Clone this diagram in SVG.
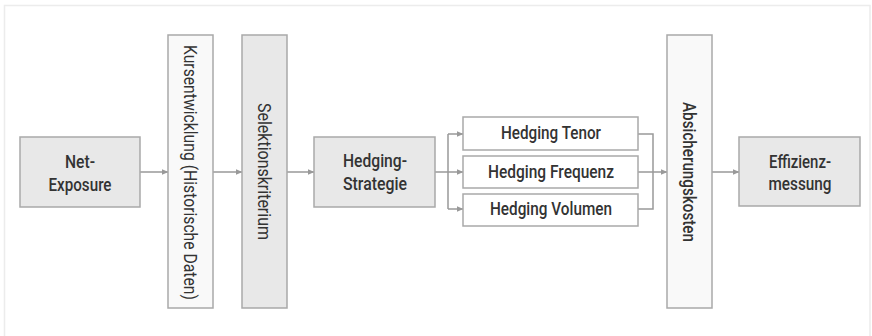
<svg xmlns="http://www.w3.org/2000/svg" width="872" height="336" viewBox="0 0 872 336">
<defs>
<marker id="ah" markerWidth="7" markerHeight="6" refX="6.5" refY="3" orient="auto" markerUnits="userSpaceOnUse">
<path d="M0,0 L7,3 L0,6 Z" fill="#999"/>
</marker>
<style>
.frame{fill:#fff;stroke:#ececec;stroke-width:1.5}
.g{fill:#e8e8e8;stroke:#a9a9a9;stroke-width:1.5}
.w{fill:#f9f9f9;stroke:#a9a9a9;stroke-width:1.5}
.ww{fill:#fff;stroke:#a9a9a9;stroke-width:1.5}
.c{fill:none;stroke:#999;stroke-width:1.5}
text{font-family:Roboto,"Liberation Sans",sans-serif;font-size:18px;fill:#333;text-anchor:middle;font-weight:500}
text.v{font-weight:400}
</style>
</defs>
<rect x="0" y="0" width="872" height="336" fill="#fff"/>
<path class="frame" d="M4.5,336 L4.5,5.5 L870,5.5 L870,336"/>
<g id="connectors">
<line class="c" x1="140" y1="172" x2="168" y2="172" marker-end="url(#ah)"/>
<line class="c" x1="213" y1="172" x2="242" y2="172" marker-end="url(#ah)"/>
<line class="c" x1="287" y1="172" x2="314" y2="172" marker-end="url(#ah)"/>
<line class="c" x1="435" y1="172" x2="448" y2="172"/>
<path class="c" d="M448,134 L448,209"/>
<line class="c" x1="448" y1="134" x2="463" y2="134" marker-end="url(#ah)"/>
<line class="c" x1="448" y1="172" x2="463" y2="172" marker-end="url(#ah)"/>
<line class="c" x1="448" y1="209" x2="463" y2="209" marker-end="url(#ah)"/>
<path class="c" d="M638,134 L653,134 L653,209 L638,209"/>
<line class="c" x1="638" y1="172" x2="667" y2="172" marker-end="url(#ah)"/>
<line class="c" x1="712" y1="172" x2="739" y2="172" marker-end="url(#ah)"/>
</g>
<g id="net-exposure">
<rect class="g" x="20" y="137" width="120" height="70"/>
<text x="80" y="167.5" textLength="30" lengthAdjust="spacingAndGlyphs">Net-</text>
<text x="80" y="190.5" textLength="63" lengthAdjust="spacingAndGlyphs">Exposure</text>
</g>
<g id="kursentwicklung">
<rect class="w" x="168" y="35" width="45" height="273"/>
<text class="v" transform="translate(183.5,172.5) rotate(90)" textLength="255" lengthAdjust="spacingAndGlyphs">Kursentwicklung (Historische Daten)</text>
</g>
<g id="selektionskriterium">
<rect class="g" x="242" y="35" width="45" height="273"/>
<text class="v" transform="translate(258,171.5) rotate(90)" textLength="137" lengthAdjust="spacingAndGlyphs">Selektionskriterium</text>
</g>
<g id="hedging-strategie">
<rect class="g" x="314" y="137" width="121" height="70"/>
<text x="375" y="167" textLength="64" lengthAdjust="spacingAndGlyphs">Hedging-</text>
<text x="375" y="190" textLength="64" lengthAdjust="spacingAndGlyphs">Strategie</text>
</g>
<g id="hedging-tenor">
<rect class="ww" x="463" y="117" width="175" height="33"/>
<text x="551" y="138.7" textLength="100" lengthAdjust="spacingAndGlyphs">Hedging Tenor</text>
</g>
<g id="hedging-frequenz">
<rect class="ww" x="463" y="156" width="175" height="32"/>
<text x="551" y="177.5" textLength="126" lengthAdjust="spacingAndGlyphs">Hedging Frequenz</text>
</g>
<g id="hedging-volumen">
<rect class="ww" x="463" y="194" width="175" height="32"/>
<text x="551" y="215" textLength="122" lengthAdjust="spacingAndGlyphs">Hedging Volumen</text>
</g>
<g id="absicherungskosten">
<rect class="w" x="667" y="35" width="45" height="273"/>
<text transform="translate(683,172) rotate(90)" textLength="140" lengthAdjust="spacingAndGlyphs">Absicherungskosten</text>
</g>
<g id="effizienzmessung">
<rect class="g" x="739" y="137" width="121" height="69"/>
<text x="800" y="167.5" textLength="62" lengthAdjust="spacingAndGlyphs">Effizienz-</text>
<text x="800" y="190" textLength="63" lengthAdjust="spacingAndGlyphs">messung</text>
</g>
</svg>
